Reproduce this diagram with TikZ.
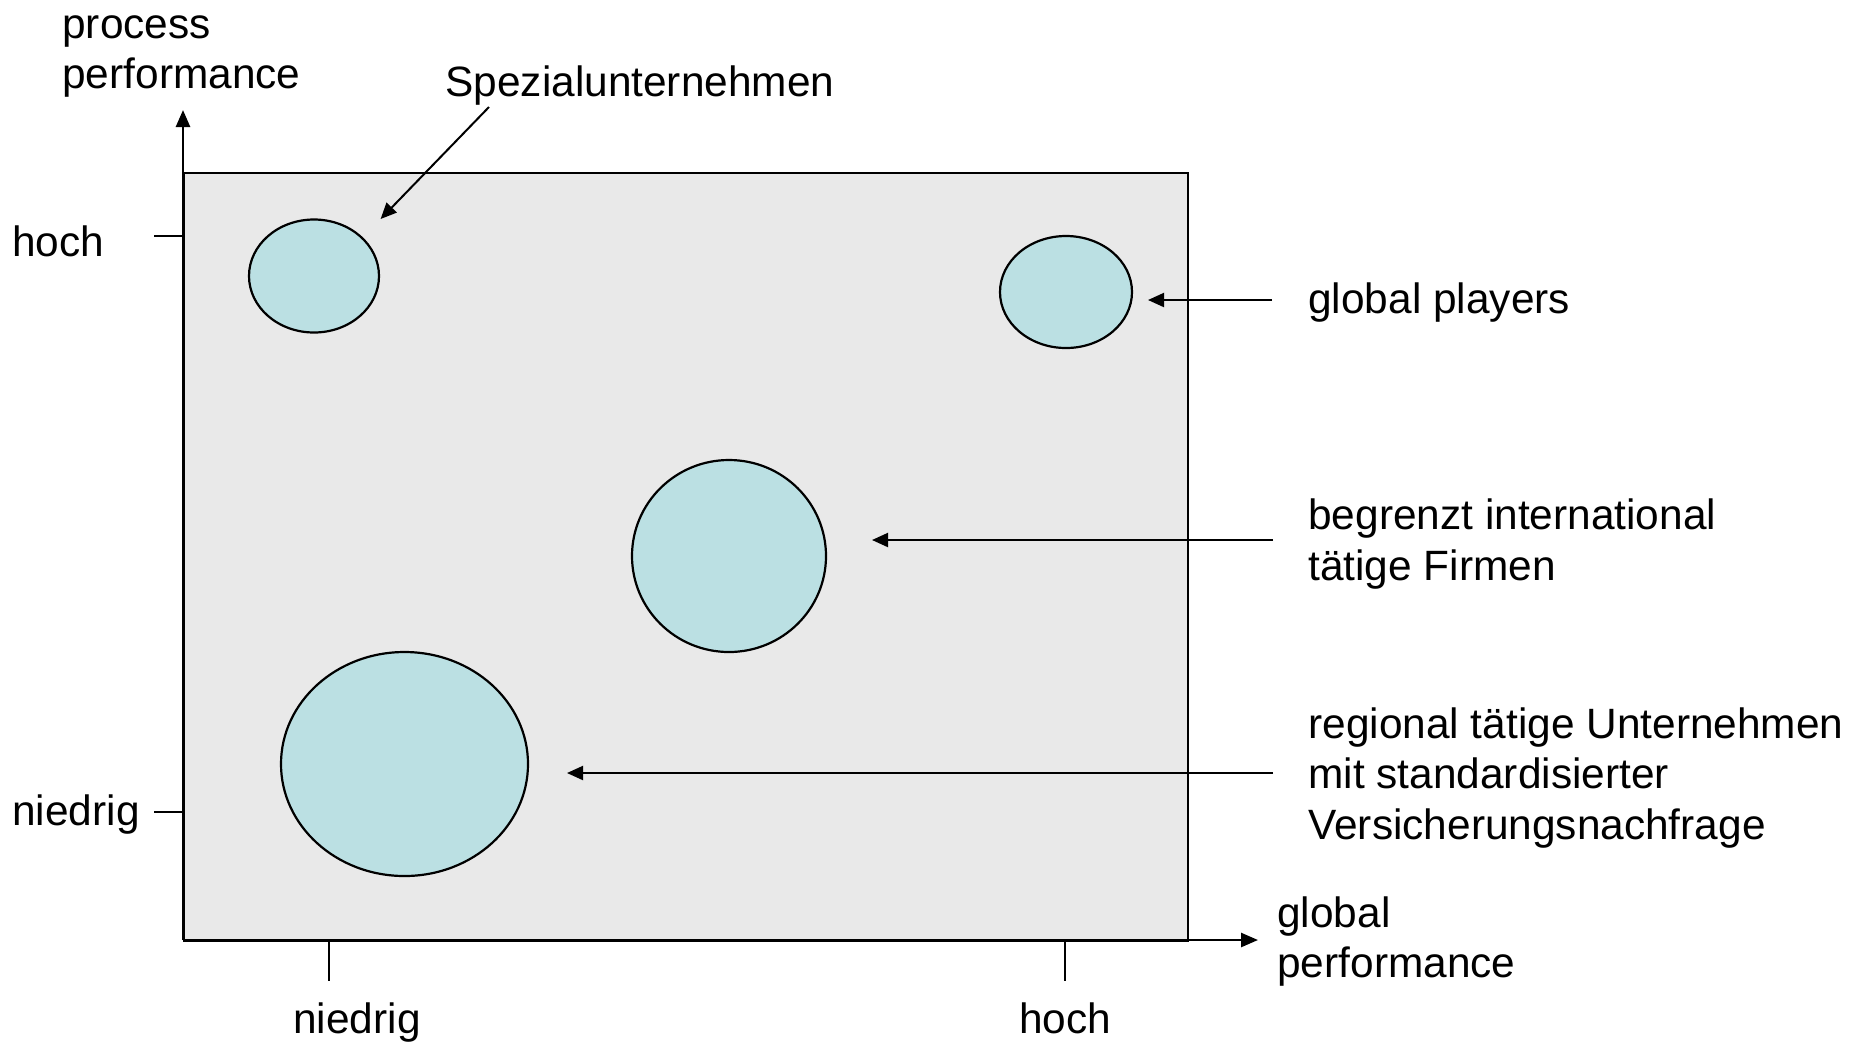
\documentclass[tikz,border=0pt]{standalone}
\usepackage{fontspec}
\setmainfont{Liberation Sans}
\usetikzlibrary{arrows.meta,shapes.geometric}
\definecolor{boxgray}{RGB}{233,233,233}
\definecolor{bubble}{RGB}{187,224,227}
\begin{document}
\begin{tikzpicture}[x=0.5pt,y=-0.5pt,
  txt/.style={font=\fontsize{21.2}{25.25}\selectfont, inner sep=0pt},
  mtxt/.style={txt, align=left, anchor=north west},
  bubblenode/.style={ellipse, draw=black, line width=1.1pt, fill=bubble, inner sep=0pt},
  arr/.style={line width=1pt, -{Triangle[length=8pt,width=7pt]}},
  axisline/.style={line width=1.3pt, -{Triangle[length=8.5pt,width=7pt]}},
  tickline/.style={line width=0.9pt}]
\useasboundingbox (0,0) rectangle (1852,1041);
% field
\node[draw=black, line width=1pt, fill=boxgray, minimum width=502pt, minimum height=384pt, anchor=north west, inner sep=0pt] (box) at (183,172) {};
% axes
\coordinate (O) at (183,940);
\coordinate (ytip) at (183,110);
\coordinate (xtip) at (1258,940);
\draw[axisline] (O) -- (ytip);
\draw[axisline] (O) -- (xtip);
% ticks
\coordinate (th1) at (154,236); \coordinate (th2) at (183,236);
\coordinate (tn1) at (154,812); \coordinate (tn2) at (183,812);
\coordinate (tx1) at (329,940); \coordinate (tx2) at (329,981);
\coordinate (tx3) at (1065,940); \coordinate (tx4) at (1065,981);
\draw[tickline] (th1) -- (th2);
\draw[tickline] (tn1) -- (tn2);
\draw[tickline] (tx1) -- (tx2);
\draw[tickline] (tx3) -- (tx4);
% axis labels
\node[mtxt] (ylabel) at (62,2.65) {\strut process\\\strut performance};
\node[mtxt] (xlabel) at (1277,891.65) {\strut global\\\strut performance};
\node[txt, anchor=base west] (yhoch) at (12,256) {hoch};
\node[txt, anchor=base west] (yniedrig) at (12,825) {niedrig};
\node[txt, anchor=base] (xniedrig) at (357,1033) {niedrig};
\node[txt, anchor=base] (xhoch) at (1065,1033) {hoch};
% bubbles
\node[bubblenode, minimum width=65pt, minimum height=56.5pt] (e1) at (314,276) {};
\node[bubblenode, minimum width=66pt, minimum height=56pt] (e2) at (1066,292) {};
\node[bubblenode, minimum width=97pt, minimum height=96pt] (e3) at (729,556) {};
\node[bubblenode, minimum width=123.5pt, minimum height=112pt] (e4) at (404.5,764) {};
% labels
\node[txt, anchor=base west] (spez) at (445,96) {Spezialunternehmen};
\node[txt, anchor=base west] (gp) at (1308,313) {global players};
\node[mtxt] (beg) at (1308,494) {\strut begrenzt international\\\strut tätige Firmen};
\node[mtxt] (reg) at (1308,702.65) {\strut regional tätige Unternehmen\\\strut mit standardisierter\\\strut Versicherungsnachfrage};
% connectors
\coordinate (a1s) at (489,107); \coordinate (a1e) at (380.6,219);
\coordinate (a2s) at (1272,300); \coordinate (a2e) at (1148,300);
\coordinate (a3s) at (1273,540); \coordinate (a3e) at (872,540);
\coordinate (a4s) at (1273,773); \coordinate (a4e) at (567,773);
\draw[arr] (a1s) -- (a1e);
\draw[arr] (a2s) -- (a2e);
\draw[arr] (a3s) -- (a3e);
\draw[arr] (a4s) -- (a4e);
\end{tikzpicture}
\end{document}
